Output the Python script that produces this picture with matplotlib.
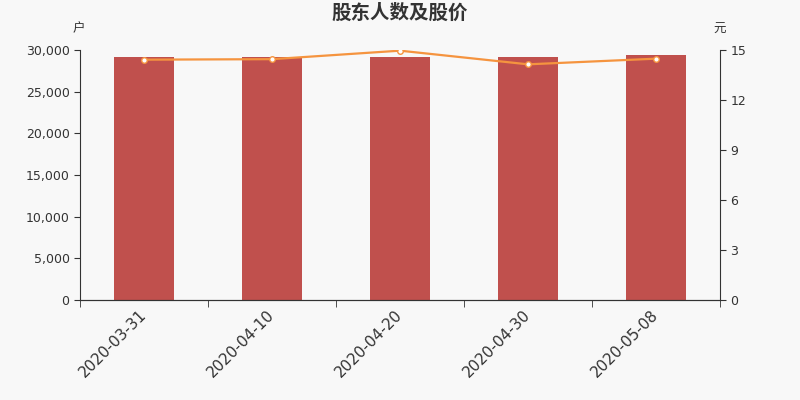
import matplotlib
matplotlib.use('Agg')
import matplotlib.pyplot as plt
import numpy as np

plt.rcParams['font.family'] = ['DejaVu Sans', 'Noto Sans CJK SC']

dates = ['2020-03-31', '2020-04-10', '2020-04-20', '2020-04-30', '2020-05-08']
holders = [29160, 29150, 29130, 29140, 29400]
prices = [14.42, 14.45, 14.96, 14.14, 14.48]

bg = '#f8f8f8'
axis_color = '#333333'

fig = plt.figure(figsize=(8, 4), dpi=100, facecolor=bg)
ax = fig.add_axes([0.1, 0.25, 0.8, 0.625], facecolor=bg)
ax2 = ax.twinx()

x = np.arange(len(dates))
ax.bar(x, holders, width=0.47, color='#c0504d', zorder=2)
ax2.plot(x, prices, color='#f5943f', linewidth=1.6, marker='o', markersize=4,
         markerfacecolor='white', markeredgecolor='#f5943f', markeredgewidth=1, zorder=3)

ax.set_xlim(-0.5, len(dates) - 0.5)
ax.set_ylim(0, 30000)
ax.set_yticks(range(0, 30001, 5000))
ax.set_yticklabels([f'{v:,}' for v in range(0, 30001, 5000)])
ax2.set_ylim(0, 15)
ax2.set_yticks(range(0, 16, 3))

# labels under bars, tick marks at category boundaries
ax.set_xticks(x)
ax.set_xticklabels(dates, rotation=45, ha='right', va='center',
                   rotation_mode='anchor', fontsize=11)
ax.tick_params(axis='x', length=0, pad=9, colors=axis_color)
ax.set_xticks(np.arange(-0.5, len(dates)), minor=True)
ax.tick_params(axis='x', which='minor', length=5, color=axis_color)

for a in (ax, ax2):
    a.spines['top'].set_visible(False)
    for s in ('left', 'right', 'bottom'):
        a.spines[s].set_color(axis_color)
    a.tick_params(axis='y', labelsize=9, colors=axis_color, length=4)

ax.spines['right'].set_visible(False)
ax2.spines['left'].set_visible(False)

fig.text(0.5, 0.967, '股东人数及股价', ha='center', va='center', fontsize=14,
         fontweight='bold', color=axis_color)
fig.text(0.098, 0.927, '户', ha='center', va='center', fontsize=9, color=axis_color)
fig.text(0.899, 0.927, '元', ha='center', va='center', fontsize=9, color=axis_color)

fig.savefig('out.png', dpi=100, facecolor=bg)
